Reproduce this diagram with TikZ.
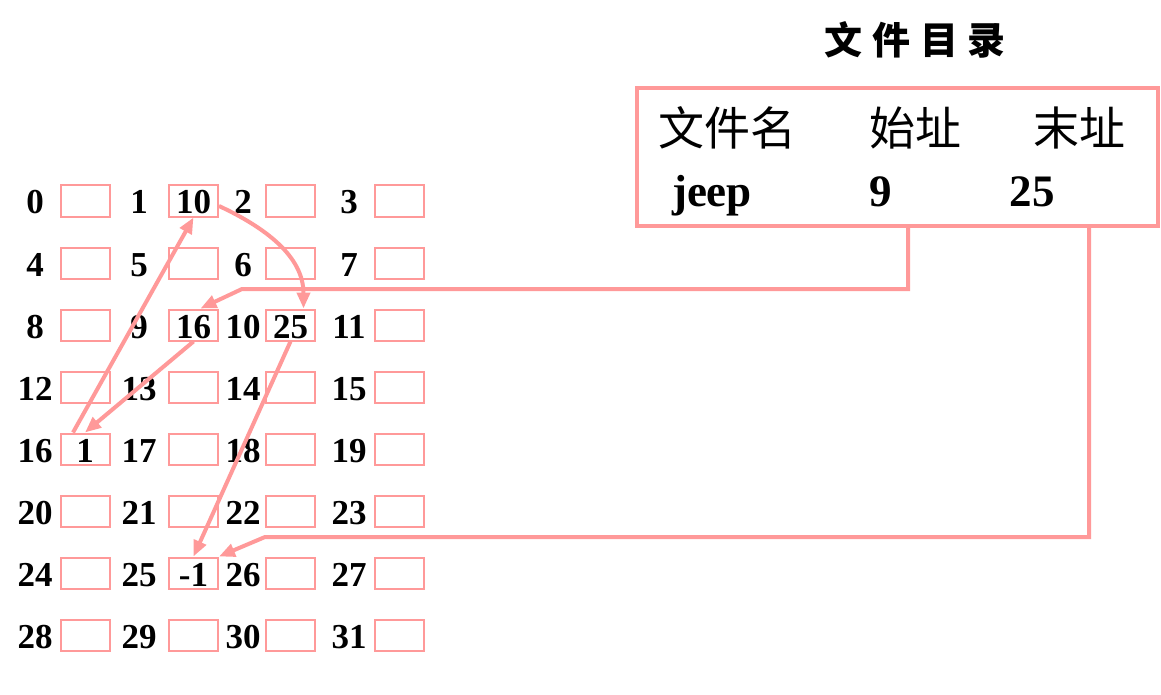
\documentclass[tikz,border=0pt]{standalone}
\usepackage{fontspec}
\setmainfont{Liberation Serif}
\newfontfamily\cjk{Noto Sans CJK SC}
\usetikzlibrary{arrows.meta}
\definecolor{pinkline}{HTML}{FF9999}
\tikzset{
  cell/.style={draw=pinkline, line width=2pt, minimum width=49pt, minimum height=31pt, inner sep=0pt},
  num/.style={anchor=base, inner sep=0pt, font=\fontsize{35}{40}\selectfont\bfseries},
  entry/.style={anchor=base, inner sep=0pt, font=\fontsize{45}{50}\selectfont\bfseries},
  head/.style={inner sep=0pt, font=\fontsize{46}{50}\selectfont\cjk},
  link/.style={draw=pinkline, line width=4pt, -{Triangle[length=16pt,width=13pt]}},
}

\begin{document}
\begin{tikzpicture}[x=1pt,y=-1pt]
  \useasboundingbox (0,0) rectangle (1161,695);

  % disk blocks 0..31
  \foreach \r in {0,...,7}{
    \foreach \c/\cx/\lx in {0/85/35,1/193.5/139,2/290.5/243,3/399.5/349}{
      \pgfmathtruncatemacro{\n}{4*\r+\c}
      \node[cell] (c\n) at (\cx,201+62*\r) {};
      \node[num] (l\n) at (\lx,214+62*\r) {\n};
    }
  }

  % link values
  \node[num] (v1) at (193.5,214) {10};
  \node[num] (v9) at (193.5,338) {16};
  \node[num] (v10) at (290.5,338) {25};
  \node[num] (v16) at (85,462) {1};
  \node[num] (v25) at (193.5,586) {-1};

  % directory
  \node[inner sep=0pt, font=\fontsize{38}{40}\selectfont\cjk\bfseries] (title) at (915,40) {文\hspace{10pt}件\hspace{10pt}目\hspace{10pt}录};
  \node[draw=pinkline, line width=4pt, minimum width=521pt, minimum height=138pt] (dir) at (897.5,157) {};
  \node[head] (hname) at (727,128) {文件名};
  \node[head] (hstart) at (915,128) {始址};
  \node[head] (hend) at (1079,128) {末址};
  \node[entry] (jeep) at (712,207) {jeep};
  \node[entry] (first) at (881,207) {9};
  \node[entry] (last) at (1032,207) {25};

  % chain
  \draw[link] ([xshift=-12pt]c16.north) -- (c1.south);
  \draw[link] ([yshift=-5pt]c1.east) to[out=-25,in=90] ([xshift=13pt]c10.north);
  \draw[link] (c10.south) -- (c25.north);
  \draw[link] (c9.south) -- (c16.north);

  \coordinate (a9) at (908,289);
  \coordinate (b9) at (242,289);
  \coordinate (a25) at (1089,537);
  \coordinate (b25) at (265,537);
  \draw[link] (dir.south -| a9) -- (a9) -- (b9) -- ([xshift=7pt]c9.north);
  \draw[link] (dir.south -| a25) -- (a25) -- (b25) -- (c25.north east);
\end{tikzpicture}
\end{document}
